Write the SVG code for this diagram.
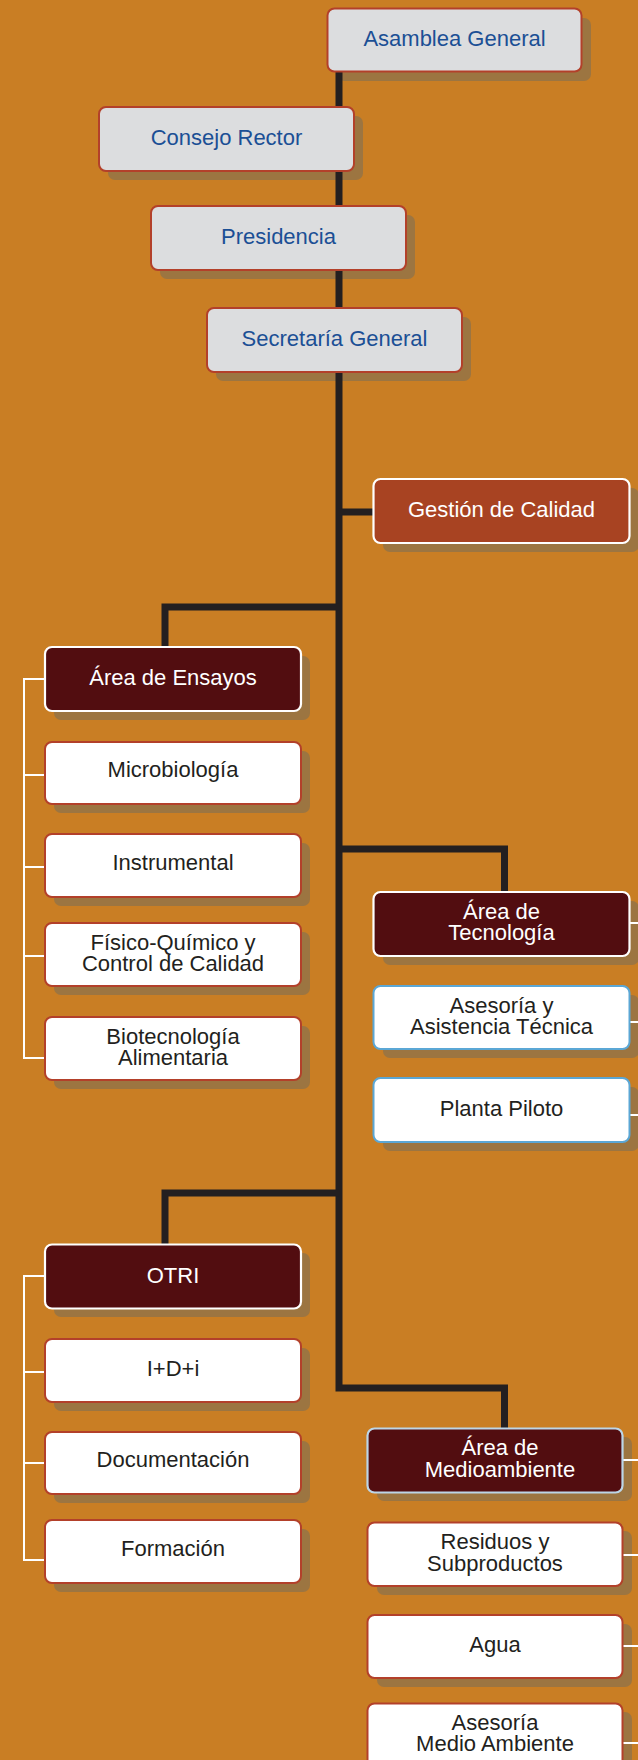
<svg xmlns="http://www.w3.org/2000/svg" width="638" height="1760" viewBox="0 0 638 1760">
<style>
.sh{fill:#9c7541}
.gray{fill:#dcdddf;stroke:#b3402a;stroke-width:2}
.wht{fill:#ffffff;stroke:#b3402a;stroke-width:2}
.whb{fill:#ffffff;stroke:#5ba7d5;stroke-width:2}
.mar{fill:#520d10;stroke:#ffffff;stroke-width:2.2}
.marb{fill:#520d10;stroke:#bcd6e8;stroke-width:2.2}
.rust{fill:#a84322;stroke:#ffffff;stroke-width:2.2}
text{font-family:"Liberation Sans",Arial,Helvetica,sans-serif;font-size:22px;text-anchor:middle}
.tb{fill:#1b4f95}
.tw{fill:#ffffff}
.td{fill:#231f20}
.conn{fill:none;stroke:#231f20;stroke-width:7;stroke-linejoin:miter;stroke-linecap:butt}
.brk{fill:none;stroke:#ffffff;stroke-width:2}
</style>
<rect x="0" y="0" width="638" height="1760" fill="#c97e24"/>

<!-- shadows -->
<g id="shadows">
<rect class="sh" x="337" y="18" width="254" height="63" rx="7"/>
<rect class="sh" x="108" y="116" width="255" height="64" rx="7"/>
<rect class="sh" x="160" y="215" width="255" height="64" rx="7"/>
<rect class="sh" x="216" y="317" width="255" height="64" rx="7"/>
<rect class="sh" x="383" y="488" width="256" height="64" rx="7"/>
<rect class="sh" x="54" y="656" width="256" height="64" rx="7"/>
<rect class="sh" x="54" y="751" width="256" height="62" rx="7"/>
<rect class="sh" x="54" y="843" width="256" height="63" rx="7"/>
<rect class="sh" x="54" y="932" width="256" height="63" rx="7"/>
<rect class="sh" x="54" y="1026" width="256" height="63" rx="7"/>
<rect class="sh" x="383" y="901" width="256" height="64" rx="7"/>
<rect class="sh" x="383" y="995" width="256" height="63" rx="7"/>
<rect class="sh" x="383" y="1087" width="256" height="64" rx="7"/>
<rect class="sh" x="54" y="1253" width="256" height="64" rx="7"/>
<rect class="sh" x="54" y="1348" width="256" height="63" rx="7"/>
<rect class="sh" x="54" y="1441" width="256" height="62" rx="7"/>
<rect class="sh" x="54" y="1529" width="256" height="63" rx="7"/>
<rect class="sh" x="377" y="1437" width="255" height="64" rx="7"/>
<rect class="sh" x="377" y="1531" width="255" height="64" rx="7"/>
<rect class="sh" x="377" y="1624" width="255" height="63" rx="7"/>
<rect class="sh" x="377" y="1712" width="255" height="64" rx="7"/>
</g>

<g id="connectors">
<path class="conn" d="M339,72 V1388 H504.5 V1429"/>
<path class="conn" d="M339,512 H374"/>
<path class="conn" d="M339,607 H165 V648"/>
<path class="conn" d="M339,849 H504.5 V893"/>
<path class="conn" d="M339,1193 H165 V1245"/>
<path class="brk" d="M45,679 H24 V1058 H45 M24,775 H45 M24,867 H45 M24,956 H45"/>
<path class="brk" d="M45,1276 H24 V1560 H45 M24,1372 H45 M24,1463 H45"/>
<path class="brk" d="M629,923 H638 M629,1022 H638 M629,1115 H638"/>
<path class="brk" d="M622,1460 H638 M622,1555 H638 M622,1646 H638 M622,1743 H638"/>
</g>

<g id="asamblea"><rect class="gray" x="327.5" y="8.5" width="254" height="63" rx="7"/><text class="tb" x="454.5" y="46">Asamblea General</text></g>
<g id="consejo"><rect class="gray" x="99" y="107" width="255" height="64" rx="7"/><text class="tb" x="226.5" y="145">Consejo Rector</text></g>
<g id="presidencia"><rect class="gray" x="151" y="206" width="255" height="64" rx="7"/><text class="tb" x="278.5" y="244">Presidencia</text></g>
<g id="secretaria"><rect class="gray" x="207" y="308" width="255" height="64" rx="7"/><text class="tb" x="334.5" y="346">Secretaría General</text></g>
<g id="gestion"><rect class="rust" x="373.5" y="479" width="256" height="64" rx="7"/><text class="tw" x="501.5" y="517">Gestión de Calidad</text></g>

<g id="ensayos"><rect class="mar" x="45" y="647" width="256" height="64" rx="7"/><text class="tw" x="173" y="684.5">Área de Ensayos</text></g>
<g id="microbiologia"><rect class="wht" x="45" y="742" width="256" height="62" rx="7"/><text class="td" x="173" y="776.5">Microbiología</text></g>
<g id="instrumental"><rect class="wht" x="45" y="834" width="256" height="63" rx="7"/><text class="td" x="173" y="869.5">Instrumental</text></g>
<g id="fisico"><rect class="wht" x="45" y="923" width="256" height="63" rx="7"/><text class="td" x="173" y="949.5">Físico-Químico y</text><text class="td" x="173" y="971">Control de Calidad</text></g>
<g id="biotecnologia"><rect class="wht" x="45" y="1017" width="256" height="63" rx="7"/><text class="td" x="173" y="1043.5">Biotecnología</text><text class="td" x="173" y="1065">Alimentaria</text></g>

<g id="tecnologia"><rect class="mar" x="373.5" y="892" width="256" height="64" rx="7"/><text class="tw" x="501.5" y="918.5">Área de</text><text class="tw" x="501.5" y="940">Tecnología</text></g>
<g id="asesoria-tecnica"><rect class="whb" x="373.5" y="986" width="256" height="63" rx="7"/><text class="td" x="501.5" y="1012.5">Asesoría y</text><text class="td" x="501.5" y="1034">Asistencia Técnica</text></g>
<g id="planta-piloto"><rect class="whb" x="373.5" y="1078" width="256" height="64" rx="7"/><text class="td" x="501.5" y="1115.5">Planta Piloto</text></g>

<g id="otri"><rect class="mar" x="45" y="1244.5" width="256" height="64" rx="7"/><text class="tw" x="173" y="1282.5">OTRI</text></g>
<g id="idi"><rect class="wht" x="45" y="1339" width="256" height="63" rx="7"/><text class="td" x="173" y="1375.5">I+D+i</text></g>
<g id="documentacion"><rect class="wht" x="45" y="1432" width="256" height="62" rx="7"/><text class="td" x="173" y="1467">Documentación</text></g>
<g id="formacion"><rect class="wht" x="45" y="1520" width="256" height="63" rx="7"/><text class="td" x="173" y="1556">Formación</text></g>

<g id="medioambiente"><rect class="marb" x="367.5" y="1428.5" width="255" height="64" rx="7"/><text class="tw" x="500" y="1455">Área de</text><text class="tw" x="500" y="1476.5">Medioambiente</text></g>
<g id="residuos"><rect class="wht" x="367.5" y="1522.5" width="255" height="63.5" rx="7"/><text class="td" x="495" y="1549">Residuos y</text><text class="td" x="495" y="1570.5">Subproductos</text></g>
<g id="agua"><rect class="wht" x="367.5" y="1615" width="255" height="63" rx="7"/><text class="td" x="495" y="1651.5">Agua</text></g>
<g id="asesoria-ma"><rect class="wht" x="367.5" y="1703.5" width="255" height="64" rx="7"/><text class="td" x="495" y="1729.5">Asesoría</text><text class="td" x="495" y="1751">Medio Ambiente</text></g>
</svg>
